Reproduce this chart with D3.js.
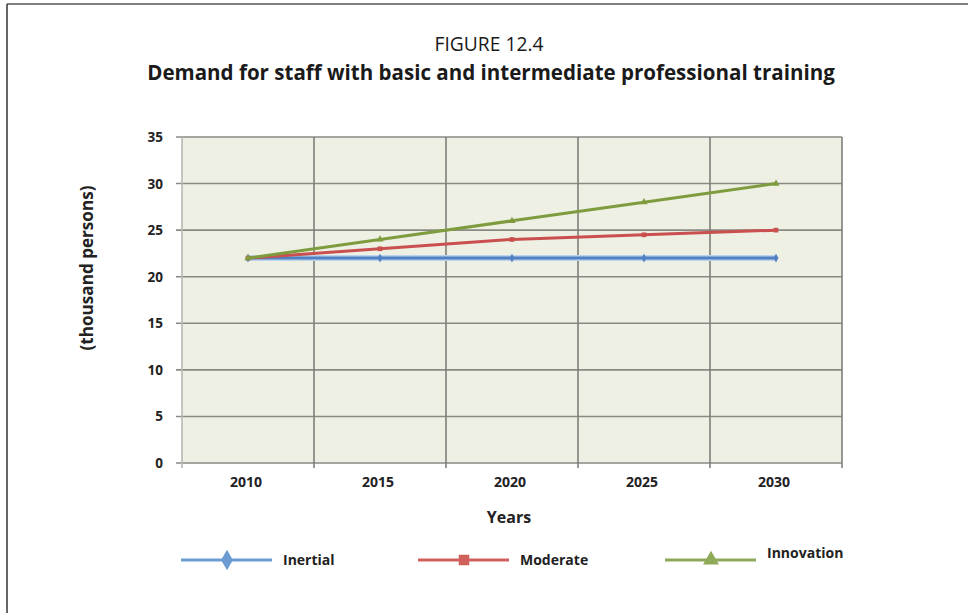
<!DOCTYPE html>
<html><head><meta charset="utf-8">
<script src="https://cdn.jsdelivr.net/npm/d3@7"></script>
<style>html,body{margin:0;padding:0;background:#fff;}svg{display:block;font-family:"Open Sans",sans-serif;}</style>
</head><body>
<svg id="c" width="968" height="613"></svg>
<script>
const years = ["2010","2015","2020","2025","2030"];
const inertial = [22,22,22,22,22];
const moderate = [22,23,24,24.5,25];
const innovation = [22,24,26,28,30];
const yTicks = [0,5,10,15,20,25,30,35];
const seriesNames = ["Inertial","Moderate","Innovation"];
const titleLine1 = "FIGURE 12.4";
const titleLine2 = "Demand for staff with basic and intermediate professional training";
const yLabel = "(thousand persons)";
const xLabel = "Years";

const svg = d3.select("#c");
const L=182, R=842, T=137, B=463;
const x = d3.scaleBand().domain(years).range([L,R]).padding(0);
const y = d3.scaleLinear().domain([0,35]).range([B,T]);

// frame
svg.append("line").attr("x1",7).attr("x2",968).attr("y1",4).attr("y2",4).attr("stroke","#555").attr("stroke-width",1.5);
svg.append("line").attr("x1",7).attr("x2",7).attr("y1",4).attr("y2",613).attr("stroke","#333").attr("stroke-width",1.5);

// titles
function fitText(sel, w){ const n=sel.node(); const cur=n.getComputedTextLength(); const fs=parseFloat(sel.attr("font-size")); sel.attr("font-size", fs*w/cur); }
const t1 = svg.append("text").attr("x",489).attr("y",51).attr("text-anchor","middle").attr("font-size",17).attr("fill","#1a1a1a").text(titleLine1);
fitText(t1,109);
const t2 = svg.append("text").attr("x",491).attr("y",80).attr("text-anchor","middle").attr("font-size",18).attr("font-weight","bold").attr("fill","#1a1a1a").text(titleLine2);
fitText(t2,688);

// plot background
svg.append("rect").attr("x",L).attr("y",T).attr("width",R-L).attr("height",B-T).attr("fill","#eef0e4");

// horizontal grid
const gH = svg.append("g");
gH.selectAll("line").data(yTicks).join("line")
  .attr("x1",L-6).attr("x2",R).attr("y1",d=>y(d)).attr("y2",d=>y(d))
  .attr("stroke","#8a8a85").attr("stroke-width",1.6);
// vertical grid (band boundaries)
const bounds = years.map(d=>x(d)).concat([R]);
svg.append("g").selectAll("line").data(bounds).join("line")
  .attr("x1",d=>d).attr("x2",d=>d).attr("y1",T).attr("y2",B+5)
  .attr("stroke",(d,i)=>i===0?"#b8b8b0":"#7f7f7a").attr("stroke-width",1.6);

// y tick labels
svg.append("g").selectAll("text").data(yTicks).join("text")
  .attr("x",163).attr("y",d=>y(d)+5).attr("text-anchor","end")
  .attr("font-size",13.5).attr("font-weight","bold").attr("fill","#222").text(d=>d);
// x tick labels
svg.append("g").selectAll("text").data(years).join("text")
  .attr("x",d=>x(d)+x.bandwidth()/2-2).attr("y",487).attr("text-anchor","middle")
  .attr("font-size",14).attr("font-weight","bold").attr("fill","#222").text(d=>d);

// axis labels
const yl = svg.append("text").attr("transform","translate(93,268) rotate(-90)").attr("text-anchor","middle")
  .attr("font-size",16).attr("font-weight","bold").attr("fill","#222").text(yLabel);
fitText(yl,165);
svg.append("text").attr("x",509).attr("y",523).attr("text-anchor","middle")
  .attr("font-size",16).attr("font-weight","bold").attr("fill","#222").text(xLabel);

// series
const series = [
  {name:seriesNames[0], vals:inertial, color:"#4f81c2", lcolor:"#6a9bd3", sym:d3.symbolDiamond},
  {name:seriesNames[1], vals:moderate, color:"#c9504e", lcolor:"#d0605c", sym:d3.symbolSquare},
  {name:seriesNames[2], vals:innovation, color:"#7e9c3e", lcolor:"#8eaa58", sym:d3.symbolTriangle}
];
const cx = d=>x(d)+x.bandwidth()/2;
const line = d3.line().x((d,i)=>cx(years[i])).y(d=>y(d));
// halo for inertial
svg.append("path").attr("d",line(inertial)).attr("fill","none").attr("stroke","#bcd3ee").attr("stroke-width",6);
series.forEach(s=>{
  svg.append("path").attr("d",line(s.vals)).attr("fill","none").attr("stroke",s.color).attr("stroke-width",3).attr("stroke-linejoin","round");
  svg.append("g").selectAll("path").data(s.vals).join("path")
    .attr("transform",(d,i)=>`translate(${cx(years[i])},${y(d)})`)
    .attr("d",d3.symbol().type(s.sym).size(22)).attr("fill",s.color);
});

// legend
const legX = [181,418,665];
const legY = [560,560,560];
const legTY = [565,565,558];
series.forEach((s,i)=>{
  const g = svg.append("g");
  g.append("line").attr("x1",legX[i]).attr("x2",legX[i]+91).attr("y1",legY[i]).attr("y2",legY[i]).attr("stroke",s.lcolor).attr("stroke-width",3);
  g.append("path").attr("transform",`translate(${legX[i]+46},${legY[i]})`).attr("d",d3.symbol().type(s.sym).size(i===2?110:i===1?110:120)).attr("fill",s.lcolor);
  g.append("text").attr("x",legX[i]+102).attr("y",legTY[i]).attr("font-size",14).attr("font-weight","bold").attr("fill","#222").text(s.name);
});
</script>
</body></html>
